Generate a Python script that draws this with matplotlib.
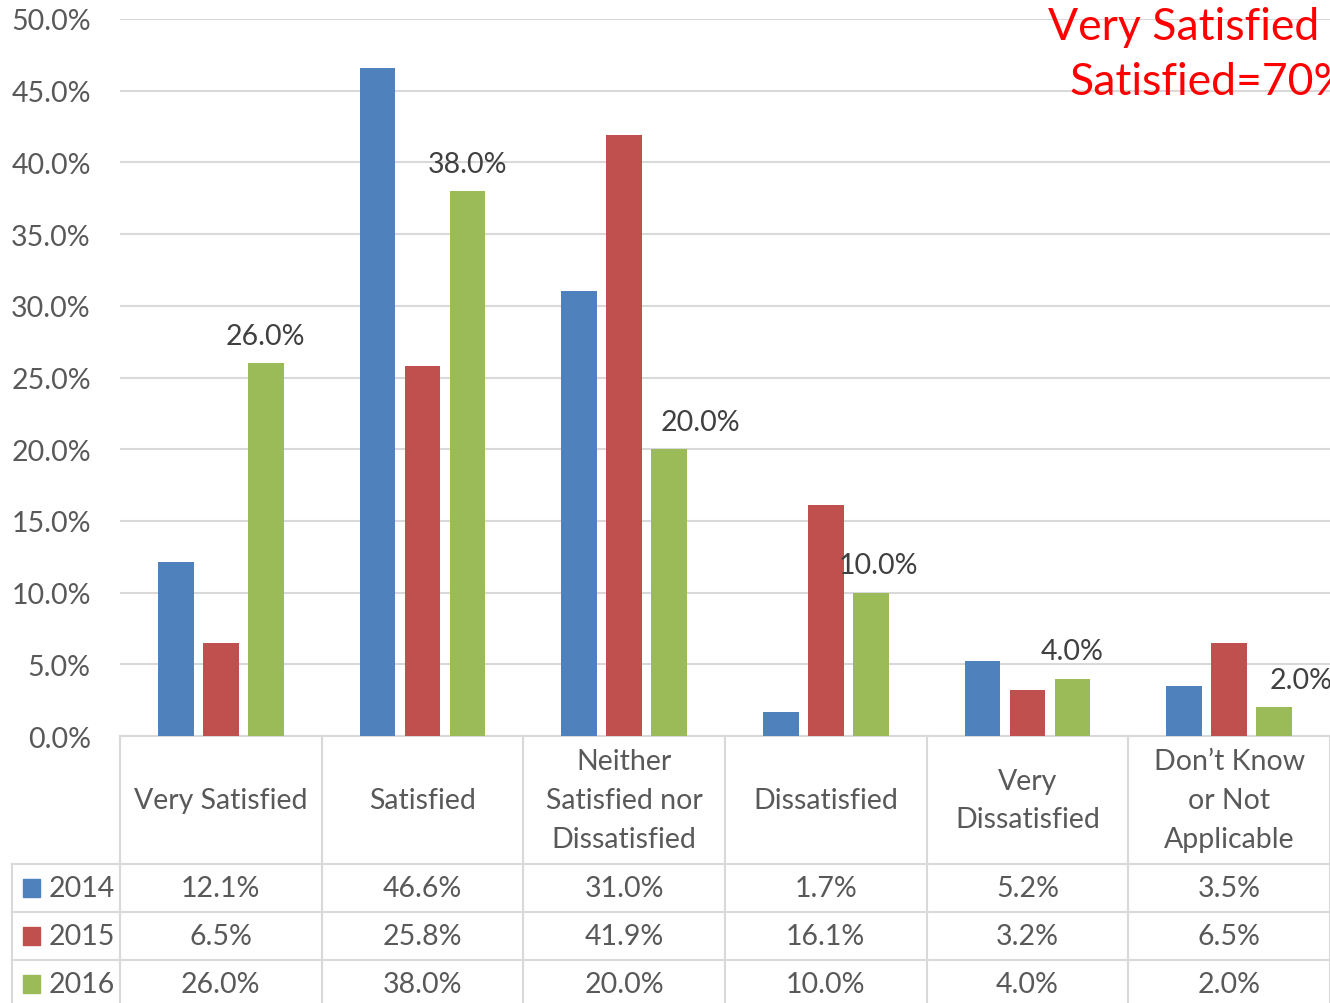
import numpy as np
import matplotlib.pyplot as plt
from matplotlib.patches import Rectangle

plt.rcParams['font.family'] = ['Lato', 'DejaVu Sans']

categories = ['Very Satisfied', 'Satisfied', 'Neither\nSatisfied nor\nDissatisfied',
              'Dissatisfied', 'Very\nDissatisfied', 'Don\u2019t Know\nor Not\nApplicable']
years = ['2014', '2015', '2016']
v2014 = [12.1, 46.6, 31.0, 1.7, 5.2, 3.5]
v2015 = [6.5, 25.8, 41.9, 16.1, 3.2, 6.5]
v2016 = [26.0, 38.0, 20.0, 10.0, 4.0, 2.0]
colors = ['#4F81BD', '#C0504D', '#9BBB59']
yticks = [0, 5, 10, 15, 20, 25, 30, 35, 40, 45, 50]

W, H = 1330, 1004
fig = plt.figure(figsize=(W / 100, H / 100), dpi=100)
ax = fig.add_axes([120 / W, 1 - 737 / H, 1 - 120 / W, (737 - 20) / H])

txt = '#595959'
grid = '#d9d9d9'
fs = 20.5
x = np.arange(len(categories))
bw = 0.178
step = 0.223
series = [v2014, v2015, v2016]
for i, vals in enumerate(series):
    ax.bar(x + (i - 1) * step, vals, width=bw, color=colors[i], zorder=3)

# data labels only for 2016 (some were nudged sideways in the original)
lab_dx = [0, 0, 0.154, 0.04, 0, 0.134]
for xi, v, dx in zip(x, v2016, lab_dx):
    ax.text(xi + step + dx, v + 1.0, f'{v:.1f}%', ha='center', va='bottom',
            fontsize=fs, color='#404040', zorder=4)

ax.set_xlim(-0.5, len(categories) - 0.5)
ax.set_ylim(0, 50)
ax.set_yticks(yticks)
ax.set_yticklabels([f'{t:.1f}%' for t in yticks])
ax.tick_params(axis='y', length=0, pad=21, labelsize=fs, labelcolor=txt)
ax.tick_params(axis='x', length=0, labelbottom=False)
for s in ax.spines.values():
    s.set_visible(False)
ax.yaxis.grid(True, color=grid, lw=1.5, zorder=0)

# data table below the plot
tr = ax.get_xaxis_transform()
ah = 717.0
cw = 1210 / 6.0
def yf(py):
    return -(py - 737) / ah

left_edge = -0.5 - 108 / cw
row_lines = [737, 865, 913, 961]
for k, py in enumerate(row_lines):
    x0 = -0.5 if k == 0 else left_edge
    ax.plot([x0, len(categories) - 0.5], [yf(py)] * 2, color=grid, lw=1.5,
            transform=tr, clip_on=False)
for c in range(len(categories) + 1):
    ax.plot([c - 0.5] * 2, [yf(737), yf(1010)], color=grid, lw=1.5,
            transform=tr, clip_on=False)
ax.plot([left_edge] * 2, [yf(865), yf(1010)], color=grid, lw=1.5,
        transform=tr, clip_on=False)

for xi, cat in zip(x, categories):
    ax.text(xi, yf(801), cat, ha='center', va='center', fontsize=fs,
            color=txt, linespacing=1.6, transform=tr)

row_centers = [889, 937, 985]
for r, (yr, vals) in enumerate(zip(years, series)):
    yc = yf(row_centers[r])
    ax.add_patch(Rectangle((-0.5 - 97 / cw, yc - 9 / ah), 17 / cw, 18 / ah,
                           color=colors[r], transform=tr, clip_on=False))
    ax.text(-0.5 - 71 / cw, yc, yr, ha='left', va='center', fontsize=fs,
            color=txt, transform=tr)
    for xi, v in zip(x, vals):
        ax.text(xi, yc, f'{v:.1f}%', ha='center', va='center', fontsize=fs,
                color=txt, transform=tr)

fig.text(1210 / W, 1 - 55 / H, 'Very Satisfied or\nSatisfied=70%', ha='center', va='center',
         fontsize=32, color='#FF0000', linespacing=1.45)

fig.savefig('out.png', dpi=100)
